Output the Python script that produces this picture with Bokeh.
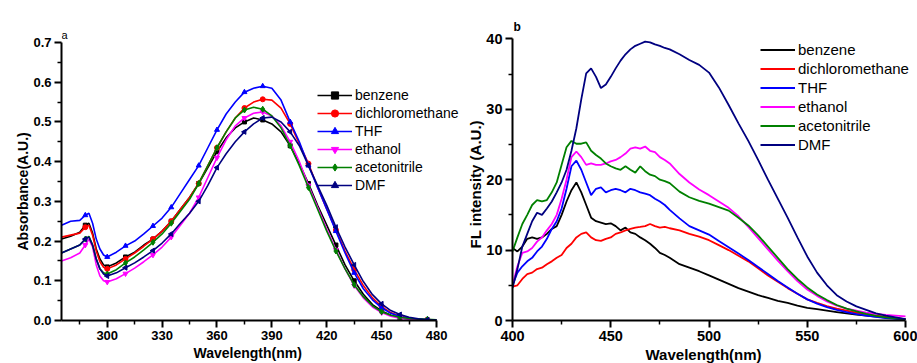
import numpy as np
from bokeh.plotting import figure
from bokeh.layouts import row
from bokeh.models import Range1d, FixedTicker, Legend, LegendItem, Label, NumeralTickFormatter, Title
from bokeh.embed import file_html
from bokeh.resources import INLINE

FONT = "Liberation Sans"

# ---------------- data: panel a (absorbance) ----------------
abs_wl = [275, 280, 285, 288, 290, 292, 294, 296, 298, 300,
          305, 310, 315, 320, 325, 330, 335, 340, 345, 350,
          355, 360, 365, 370, 375, 380, 385, 390, 395, 400,
          405, 410, 415, 420, 425, 430, 435, 440, 445, 450,
          455, 460, 465, 470, 475, 480]

abs_benzene = [0.205, 0.212, 0.222, 0.240, 0.245, 0.220, 0.180, 0.155, 0.140, 0.135,
               0.145, 0.160, 0.172, 0.190, 0.205, 0.225, 0.250, 0.280, 0.310, 0.345,
               0.385, 0.425, 0.460, 0.485, 0.500, 0.510, 0.505, 0.495, 0.475, 0.440,
               0.395, 0.345, 0.290, 0.240, 0.190, 0.140, 0.100, 0.066, 0.040, 0.024,
               0.013, 0.007, 0.004, 0.002, 0.001, 0.001]
abs_dcm = [0.210, 0.215, 0.220, 0.235, 0.240, 0.215, 0.175, 0.148, 0.134, 0.130,
           0.140, 0.155, 0.170, 0.187, 0.205, 0.225, 0.250, 0.280, 0.310, 0.345,
           0.390, 0.435, 0.475, 0.510, 0.535, 0.550, 0.557, 0.555, 0.535, 0.495,
           0.445, 0.395, 0.335, 0.280, 0.228, 0.175, 0.128, 0.088, 0.057, 0.035,
           0.020, 0.011, 0.006, 0.003, 0.002, 0.001]
abs_thf = [0.240, 0.250, 0.252, 0.265, 0.270, 0.245, 0.205, 0.180, 0.165, 0.160,
           0.172, 0.188, 0.200, 0.218, 0.238, 0.258, 0.285, 0.320, 0.355, 0.390,
           0.435, 0.480, 0.520, 0.550, 0.575, 0.585, 0.590, 0.585, 0.555, 0.500,
           0.450, 0.390, 0.335, 0.280, 0.225, 0.170, 0.120, 0.080, 0.052, 0.032,
           0.018, 0.010, 0.005, 0.003, 0.002, 0.001]
abs_ethanol = [0.150, 0.158, 0.170, 0.190, 0.205, 0.185, 0.140, 0.112, 0.100, 0.097,
               0.105, 0.118, 0.132, 0.148, 0.165, 0.185, 0.210, 0.240, 0.270, 0.310,
               0.360, 0.410, 0.455, 0.490, 0.510, 0.522, 0.525, 0.515, 0.490, 0.450,
               0.400, 0.340, 0.285, 0.230, 0.178, 0.130, 0.088, 0.057, 0.034, 0.020,
               0.011, 0.006, 0.003, 0.002, 0.001, 0.000]
abs_acn = [0.170, 0.180, 0.190, 0.205, 0.212, 0.190, 0.155, 0.130, 0.120, 0.117,
           0.128, 0.145, 0.160, 0.178, 0.197, 0.218, 0.245, 0.275, 0.305, 0.345,
           0.390, 0.435, 0.475, 0.510, 0.530, 0.537, 0.532, 0.515, 0.485, 0.440,
           0.390, 0.335, 0.280, 0.225, 0.175, 0.130, 0.090, 0.060, 0.037, 0.022,
           0.013, 0.008, 0.005, 0.004, 0.003, 0.002]
abs_dmf = [0.170, 0.180, 0.190, 0.205, 0.210, 0.190, 0.155, 0.130, 0.117, 0.112,
           0.120, 0.133, 0.145, 0.160, 0.176, 0.195, 0.218, 0.245, 0.270, 0.300,
           0.340, 0.385, 0.420, 0.450, 0.475, 0.495, 0.510, 0.512, 0.500, 0.475,
           0.440, 0.390, 0.340, 0.290, 0.235, 0.185, 0.140, 0.098, 0.065, 0.042,
           0.025, 0.015, 0.008, 0.004, 0.002, 0.001]

# indices of the data points that carry a symbol
marker_idx = [3, 9, 11, 14, 16, 19, 21, 24, 26, 29, 31, 34, 36, 39, 41, 44]

# ---------------- data: panel b (fluorescence) ----------------
fl_wl = [400, 402.5, 405, 407.5, 410, 412.5, 415, 417.5, 420, 422.5,
         425, 427.5, 430, 432.5, 435, 437.5, 440, 442.5, 445, 447.5,
         450, 452.5, 455, 457.5, 460, 462.5, 465, 467.5, 470, 472.5,
         475, 477.5, 480,
         485, 490, 495, 500, 505, 510, 515, 520, 525, 530,
         535, 540, 545, 550, 555, 560, 565, 570, 575, 580,
         585, 590, 595, 600]

fl_benzene = [10.3, 9.8, 10.5, 11.6, 11.8, 11.6, 11.8, 12.3, 13.0, 13.4,
              15.0, 16.9, 18.5, 19.6, 18.2, 16.4, 14.6, 14.1, 13.9, 13.7,
              13.8, 13.4, 12.8, 13.2, 12.5, 12.3, 11.8, 11.4, 10.9, 10.3,
              9.6, 9.3, 8.9,
              8.0, 7.5, 7.0, 6.4, 5.8, 5.2, 4.6, 4.1, 3.6, 3.2,
              2.8, 2.5, 2.1, 1.8, 1.6, 1.4, 1.2, 1.0, 0.85, 0.7,
              0.55, 0.4, 0.3, 0.2]
fl_dcm = [4.8, 5.0, 5.9, 6.6, 6.8, 7.3, 7.5, 8.0, 8.4, 8.9,
          9.3, 10.3, 10.9, 11.8, 12.3, 12.5, 11.8, 11.4, 11.3, 11.6,
          11.8, 12.3, 12.5, 12.8, 13.0, 13.2, 13.3, 13.4, 13.7, 13.4,
          13.2, 13.3, 13.1,
          12.8, 12.3, 11.9, 11.4, 10.7, 10.0, 9.2, 8.4, 7.4, 6.4,
          5.5, 4.6, 3.8, 3.0, 2.5, 2.05, 1.7, 1.4, 1.1, 0.9,
          0.7, 0.55, 0.35, 0.2]
fl_thf = [5.0, 6.8, 7.7, 8.4, 8.9, 9.8, 10.5, 11.6, 13.0, 14.1,
          15.9, 18.7, 21.9, 22.7, 21.4, 19.6, 17.8, 18.7, 18.9, 18.2,
          18.5, 18.7, 18.5, 18.2, 18.7, 18.5, 18.2, 18.0, 17.8, 17.3,
          16.9, 16.4, 15.7,
          14.5, 13.4, 12.8, 12.2, 11.3, 10.4, 9.5, 8.6, 7.6, 6.6,
          5.6, 4.7, 3.8, 3.0, 2.4, 1.9, 1.5, 1.2, 0.9, 0.7,
          0.5, 0.35, 0.25, 0.15]
fl_ethanol = [5.0, 7.7, 9.6, 9.8, 10.3, 11.2, 11.8, 12.8, 13.7, 15.0,
              17.3, 20.0, 23.2, 24.0, 23.2, 22.1, 22.3, 22.1, 22.1, 22.3,
              22.6, 22.8, 23.2, 23.7, 24.4, 24.6, 24.4, 24.7, 24.1, 23.9,
              23.2, 22.8, 22.3,
              20.8, 19.6, 18.6, 17.8, 16.9, 16.0, 14.8, 13.3, 11.7, 10.1,
              8.5, 7.0, 5.6, 4.4, 3.5, 2.7, 2.1, 1.7, 1.4, 1.1,
              0.95, 0.8, 0.7, 0.6]
fl_acn = [9.8, 11.8, 13.7, 15.0, 16.4, 17.1, 16.9, 17.1, 18.2, 19.6,
          22.1, 24.6, 25.5, 25.1, 25.1, 25.3, 24.1, 23.5, 23.0, 22.3,
          21.9, 21.6, 21.4, 21.9, 21.4, 21.0, 21.9, 21.2, 20.7, 20.5,
          20.0, 19.8, 19.5,
          18.3, 17.5, 17.0, 16.6, 16.1, 15.6, 14.6, 13.5, 12.1, 10.5,
          8.9, 7.3, 5.9, 4.7, 3.7, 2.9, 2.2, 1.7, 1.3, 0.95,
          0.65, 0.45, 0.3, 0.15]
fl_dmf = [4.6, 7.3, 10.5, 12.3, 14.1, 15.3, 15.0, 15.9, 16.9, 18.2,
          19.6, 21.4, 24.1, 27.3, 31.4, 35.1, 35.8, 34.6, 33.0, 33.5,
          34.6, 35.8, 36.9, 37.8, 38.5, 39.0, 39.3, 39.6, 39.5, 39.2,
          39.0, 38.7, 38.5,
          37.8, 37.0, 36.3, 35.2, 33.1, 30.6, 28.0, 25.5, 22.8, 20.0,
          17.3, 14.6, 11.8, 9.1, 6.8, 5.0, 3.6, 2.7, 2.0, 1.5,
          1.0, 0.7, 0.45, 0.2]

names = ["benzene", "dichloromethane", "THF", "ethanol", "acetonitrile", "DMF"]
colors = ["#000000", "#ff0000", "#0000ff", "#ff00ff", "#008000", "#000080"]
markers = ["square", "circle", "triangle", "inverted_triangle", "diamond", "triangle"]
marker_angles = [0, 0, 0, 0, 0, np.pi / 2]
marker_sizes = [4, 5, 5, 5, 6, 5]

abs_series = [abs_benzene, abs_dcm, abs_thf, abs_ethanol, abs_acn, abs_dmf]
fl_series = [fl_benzene, fl_dcm, fl_thf, fl_ethanol, fl_acn, fl_dmf]


def style_axes(p, xt, xm, yt, ym, xb, yb, tick_size):
    p.xgrid.visible = False
    p.ygrid.visible = False
    p.outline_line_color = None
    p.background_fill_color = "white"
    p.border_fill_color = "white"
    p.xaxis[0].ticker = FixedTicker(ticks=xt, minor_ticks=xm)
    p.yaxis[0].ticker = FixedTicker(ticks=yt, minor_ticks=ym)
    p.xaxis[0].bounds = xb
    p.yaxis[0].bounds = yb
    for ax in (p.xaxis[0], p.yaxis[0]):
        ax.axis_line_width = 2
        ax.axis_line_color = "black"
        ax.major_tick_line_width = 2
        ax.major_tick_line_color = "black"
        ax.minor_tick_line_width = 1.5
        ax.minor_tick_line_color = "black"
        ax.major_tick_out = 7
        ax.major_tick_in = 0
        ax.minor_tick_out = 4
        ax.minor_tick_in = 0
        ax.major_label_text_font = FONT
        ax.major_label_text_font_style = "bold"
        ax.major_label_text_font_size = tick_size
        ax.major_label_text_color = "black"
        ax.major_label_standoff = 3


def axis_title(text, size, offset):
    # align "left" + offset: pixel distance from the frame's left (below) / bottom (left)
    return Title(text=text, align="left", offset=offset, standoff=0,
                 text_font=FONT, text_font_style="bold", text_font_size=size,
                 text_color="black")


# ---------------- panel a ----------------
# frame: x 61..462 (axis drawn to 480 nm = x 436), y 20..320 (axis drawn to 0.7 = y 42)
pa = figure(width=462, height=363, output_backend="svg", toolbar_location=None,
            x_range=Range1d(275, 494.2), y_range=Range1d(0, 0.7554),
            min_border_left=61, min_border_right=0, min_border_top=20, min_border_bottom=43)
style_axes(pa, [300, 330, 360, 390, 420, 450, 480], [285, 315, 345, 375, 405, 435, 465],
           [0.0, 0.1, 0.2, 0.3, 0.4, 0.5, 0.6, 0.7], [0.05, 0.15, 0.25, 0.35, 0.45, 0.55, 0.65],
           (275, 480), (0, 0.7), "13px")
pa.yaxis[0].formatter = NumeralTickFormatter(format="0.0")
pa.add_layout(axis_title("Wavelength(nm)", "14px", 132), "below")
pa.add_layout(axis_title("Absorbance(A.U.)", "14px", 70), "left")

items_a = []
for name, col, mk, ang, ms, ys in zip(names, colors, markers, marker_angles, marker_sizes, abs_series):
    lr = pa.line(abs_wl, ys, line_color=col, line_width=1.6)
    mx = [abs_wl[i] for i in marker_idx]
    my = [ys[i] for i in marker_idx]
    sr = pa.scatter(mx, my, marker=mk, angle=ang, size=ms, fill_color=col, line_color=col)
    items_a.append(LegendItem(label=name, renderers=[lr, sr]))

leg_a = Legend(items=items_a, location=(256, 126), glyph_width=35, glyph_height=18,
               label_height=18, spacing=0, padding=0, margin=0, label_standoff=3,
               border_line_color=None, background_fill_alpha=0,
               label_text_font=FONT, label_text_font_size="14px", label_text_color="black")
pa.add_layout(leg_a)
pa.add_layout(Label(x=275, y=0.7, text="a", x_offset=0, y_offset=2, text_align="left",
                    text_baseline="bottom", text_font=FONT, text_font_size="11px",
                    text_color="black"))

# ---------------- panel b ----------------
# frame: x 512..917 (axis drawn to 600 nm = x 905), y 8..320 (axis drawn to 40 = y 27)
pb = figure(width=455, height=363, output_backend="svg", toolbar_location=None,
            x_range=Range1d(400, 606.1), y_range=Range1d(0, 42.6),
            min_border_left=50, min_border_right=0, min_border_top=8, min_border_bottom=43)
style_axes(pb, [400, 450, 500, 550, 600], [425, 475, 525, 575],
           [0, 10, 20, 30, 40], [5, 15, 25, 35], (400, 600), (0, 40), "14.5px")
pb.add_layout(axis_title("Wavelength(nm)", "15px", 133), "below")
pb.add_layout(axis_title("FL intensity (A.U.)", "15px", 72), "left")

items_b = []
for name, col, ys in zip(names, colors, fl_series):
    lr = pb.line(fl_wl, ys, line_color=col, line_width=1.8)
    items_b.append(LegendItem(label=name, renderers=[lr]))

leg_b = Legend(items=items_b, location=(248, 166), glyph_width=35, glyph_height=19,
               label_height=19, spacing=0, padding=0, margin=0, label_standoff=3,
               border_line_color=None, background_fill_alpha=0,
               label_text_font=FONT, label_text_font_size="15px", label_text_color="black")
pb.add_layout(leg_b)
pb.add_layout(Label(x=400, y=40, text="b", x_offset=1, y_offset=5, text_align="left",
                    text_baseline="bottom", text_font=FONT, text_font_size="12px",
                    text_font_style="bold", text_color="black"))

layout = row(pa, pb)
open("out.html", "w").write(file_html(layout, INLINE))
